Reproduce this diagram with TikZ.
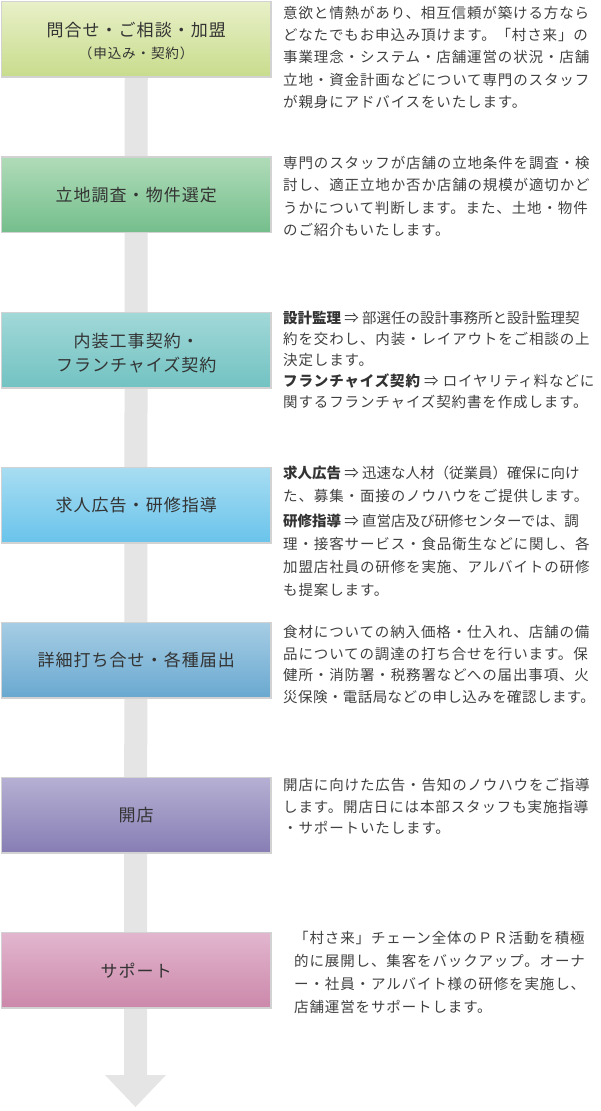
\documentclass[tikz,border=0pt]{standalone}
\usepackage{fontspec}
\newfontfamily\jp[LetterSpace=6]{Noto Sans CJK JP}
\newfontfamily\jpm[LetterSpace=3]{Noto Sans CJK JP}
\newfontfamily\jpn{Noto Sans CJK JP}
\usetikzlibrary{backgrounds}
\definecolor{boxline}{HTML}{D2D2D2}
\definecolor{shaftcol}{HTML}{E5E5E5}
\definecolor{titlecol}{HTML}{333333}
\definecolor{bodycol}{HTML}{404040}
\definecolor{aT}{HTML}{E8F0C8}\definecolor{aB}{HTML}{C8DC8C}
\definecolor{bT}{HTML}{B0DCB8}\definecolor{bB}{HTML}{74BE8C}
\definecolor{cT}{HTML}{A2D8D8}\definecolor{cB}{HTML}{72C2C2}
\definecolor{dT}{HTML}{A8DDF2}\definecolor{dB}{HTML}{69C3EB}
\definecolor{eT}{HTML}{A6CDE4}\definecolor{eB}{HTML}{69A8D0}
\definecolor{fT}{HTML}{B5B0D3}\definecolor{fB}{HTML}{877DB4}
\definecolor{gT}{HTML}{E2B6CE}\definecolor{gB}{HTML}{CC88AA}
\newcommand{\bodyblock}[2]{\parbox[t]{320pt}{\baselineskip=#1pt #2}}
\begin{document}
\begin{tikzpicture}[x=1pt,y=-1pt,
  box/.style={draw=boxline,line width=1.5pt,minimum width=269.5pt,minimum height=75.5pt,
    inner sep=0pt,anchor=north west,text=titlecol,align=center,
    font=\jp\fontsize{17}{23.5}\selectfont},
  body/.style={anchor=base west,inner sep=0pt,text=bodycol,
    font=\jp\fontsize{14.5}{22}\selectfont}]
\useasboundingbox (0,0) rectangle (600,1111);

% step boxes
\node[box,top color=aT,bottom color=aB] (b1) at (0.75,0.75)
  {\rule{0pt}{18pt}問合せ・ご相談・加盟\\[-1pt]{\fontsize{13.6}{23.5}\selectfont （申込み・契約）}};
\node[box,top color=bT,bottom color=bB] (b2) at (0.75,156.25) {立地調査・物件選定};
\node[box,top color=cT,bottom color=cB] (b3) at (0.75,311.75)
  {\rule{0pt}{20pt}内装工事契約・\\フランチャイズ契約};
\node[box,top color=dT,bottom color=dB] (b4) at (0.75,466.75) {求人広告・研修指導};
\node[box,top color=eT,bottom color=eB] (b5) at (0.75,621.75) {詳細打ち合せ・各種届出};
\node[box,top color=fT,bottom color=fB] (b6) at (0.75,776.75) {開店};
\node[box,top color=gT,bottom color=gB] (b7) at (0.75,931.75) {サポート};

% big arrow behind the boxes
\coordinate (hb) at (135.5,1075);
\coordinate (tip) at (135.5,1107);
\begin{scope}[on background layer]
  \draw[shaftcol,line width=23pt] (b1.south) -- (hb);
  \fill[shaftcol] ([xshift=-30.5pt]hb) -- ([xshift=30.5pt]hb) -- (tip) -- cycle;
\end{scope}

% descriptions
\node[body] (t1) at (283,18.5) {\bodyblock{22.2}{%
意欲と情熱があり、相互信頼が築ける方なら\\
どなたでもお申込み頂けます。「村さ来」の\\
事業理念・システム・店舗運営の状況・店舗\\
立地・資金計画などについて専門のスタッフ\\
が親身にアドバイスをいたします。}};

\node[body] (t2) at (283,168.5) {\bodyblock{22.3}{%
専門のスタッフが店舗の立地条件を調査・検\\
討し、適正立地か否か店舗の規模が適切かど\\
うかについて判断します。また、土地・物件\\
のご紹介もいたします。}};

\node[body] (t3) at (283,323.5) {\bodyblock{21}{%
{\jpn\textbf{\color{titlecol}設計監理} ⇒ 部選任の設計事務所と設計監理契}\\
約を交わし、内装・レイアウトをご相談の上\\
決定します。\\
\textbf{\color{titlecol}フランチャイズ契約} ⇒ ロイヤリティ料などに\\
関するフランチャイズ契約書を作成します。}};

\node[body] (t4) at (283,478.8) {\bodyblock{22.8}{%
{\jpn\textbf{\color{titlecol}求人広告} ⇒ 迅速な人材（従業員）確保に向け}\\
た、募集・面接のノウハウをご提供します。\\[2.5pt]
{\jpn\textbf{\color{titlecol}研修指導} ⇒ 直営店及び研修センターでは、調}\\
理・接客サービス・食品衛生などに関し、各\\
加盟店社員の研修を実施、アルバイトの研修\\
も提案します。}};

\node[body] (t5) at (283,637.5) {\bodyblock{21.7}{%
食材についての納入価格・仕入れ、店舗の備\\
品についての調達の打ち合せを行います。保\\
健所・消防署・税務署などへの届出事項、火\\
{\jpm 災保険・電話局などの申し込みを確認します。}}};

\node[body] (t6) at (283,790.5) {\bodyblock{21.5}{%
開店に向けた広告・告知のノウハウをご指導\\
します。開店日には本部スタッフも実施指導\\
・サポートいたします。}};

\node[body] (t7) at (294,943.5) {\bodyblock{23}{%
「村さ来」チェーン全体のＰＲ活動を積極\\
的に展開し、集客をバックアップ。オーナ\\
ー・社員・アルバイト様の研修を実施し、\\
店舗運営をサポートします。}};
\end{tikzpicture}
\end{document}
